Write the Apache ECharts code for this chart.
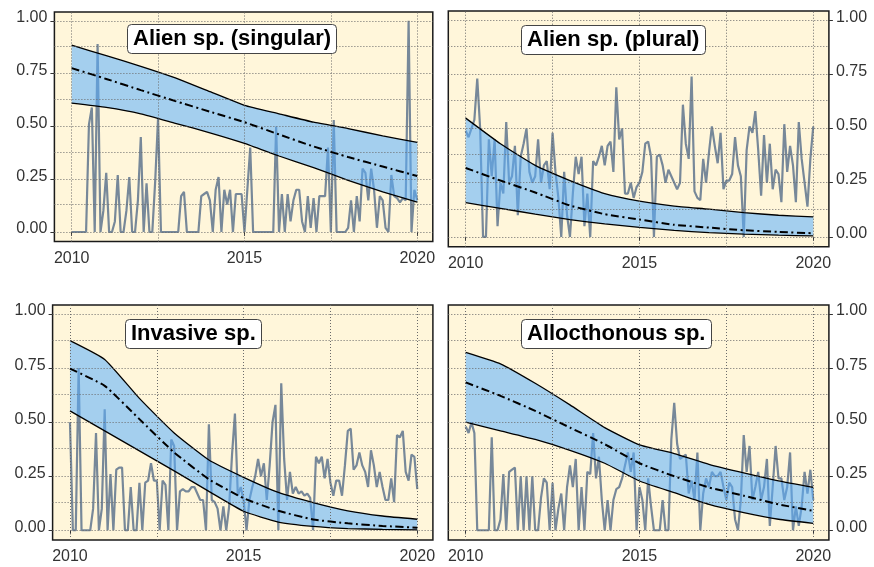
<!DOCTYPE html>
<html><head><meta charset="utf-8">
<script src="https://cdn.jsdelivr.net/npm/echarts/dist/echarts.min.js"></script>
<style>html,body{margin:0;padding:0;background:#fff}#c{width:874px;height:567px}</style>
</head><body><div id="c"></div>
<script>
// ---------- DATA ----------
const panelTitles = ['Alien sp. (singular)', 'Alien sp. (plural)', 'Invasive sp.', 'Allocthonous sp.'];
const xTickLabels = [2010, 2015, 2020];
const yTickLabels = [0, 0.25, 0.5, 0.75, 1];
const xGridLines = [2010, 2012.5, 2015, 2017.5, 2020];
const yGridLines = [0, 0.125, 0.25, 0.375, 0.5, 0.625, 0.75, 0.875, 1];
const fitYears = [2010, 2011, 2012, 2013, 2014, 2015, 2016, 2017, 2018, 2019, 2020];

// monthly proportions, Jan 2010 .. Jan 2020
const singularMonthly = [
  0,0,0,0,0,0,0.51,0.59,0,0.89,
  0,0.1,0.28,0,0,0.05,0.27,0,0,0.1,
  0.26,0,0,0.15,0.45,0,0.23,0,0,0.24,
  0.54,0,0,0,0,0,0,0,0.17,0.19,
  0,0,0,0,0,0.17,0.18,0.19,0.15,0,
  0.2,0.26,0,0.2,0.13,0.2,0,0.18,0.18,0.18,
  0,0.2,0.4,0,0,0,0,0,0,0,
  0,0.5,0,0.18,0,0.18,0.05,0.15,0.2,0.2,
  0.05,0,0.17,0.02,0.16,0,0.17,0.17,0.17,0.4,
  0,0.53,0,0,0,0,0.02,0.15,0,0.17,
  0.05,0.3,0.28,0.15,0.3,0.2,0.02,0.17,0.15,0.02,
  0,0.27,0.17,0.16,0.14,0.16,0.15,1.0,0,0.2,0.15
];
const pluralMonthly = [
  0.49,0.46,0.5,0.54,0.73,0.5,0,0,0.45,0.28,
  0.45,0.05,0.25,0.2,0.53,0.25,0.28,0.42,0.1,0.37,
  0.43,0.5,0.3,0.25,0.28,0.45,0.25,0.33,0.35,0.22,
  0.48,0.3,0.18,0,0.3,0.1,0,0.2,0.37,0.29,
  0.37,0.05,0.2,0,0.35,0.33,0.37,0.42,0.33,0.42,
  0.44,0.3,0.69,0.45,0.5,0.2,0.2,0.25,0.18,0.23,
  0.25,0.3,0.43,0.44,0.37,0,0.37,0.38,0.33,0.25,
  0.31,0.28,0.25,0.22,0.25,0.61,0.43,0.36,0.74,0.21,
  0.18,0.17,0.36,0.25,0.39,0.51,0.42,0.34,0.48,0.22,
  0.26,0.26,0.29,0.46,0.33,0.28,0,0.4,0.51,0.48,
  0.58,0.4,0.19,0.47,0.25,0.43,0.22,0.31,0.29,0.16,
  0.52,0.3,0.42,0.33,0.16,0.53,0.36,0.25,0.14,0.36,0.51
];
const invasiveMonthly = [
  0.5,0,0,0.75,0,0,0,0,0.1,0.45,
  0,0.1,0.56,0,0.26,0,0.28,0.29,0.29,0,
  0,0.2,0,0,0.22,0,0.22,0.23,0.31,0.23,
  0.23,0,0.23,0.21,0,0.42,0.39,0,0.18,0.19,
  0.18,0.18,0.2,0.2,0.17,0.14,0.14,0,0.49,0.14,
  0.13,0.1,0,0.11,0,0.11,0.35,0.54,0.16,0.2,
  0.14,0,0.14,0.2,0.25,0.33,0.25,0.31,0.14,0.3,
  0.5,0.58,0,0.68,0.33,0.14,0.27,0.17,0.2,0.17,
  0.18,0.16,0.17,0.15,0,0.34,0.31,0.34,0.24,0.33,
  0.22,0.16,0.23,0.23,0.16,0.3,0.46,0.47,0.28,0.3,
  0.36,0.3,0.27,0.2,0.37,0.3,0.2,0.27,0.2,0.14,
  0.14,0.24,0.13,0.44,0.43,0.46,0.27,0.23,0.35,0.34,0.19
];
const allocthonousMonthly = [
  0.48,0.45,0.5,0.45,0,0,0,0,0,0.43,
  0,0,0.05,0.26,0,0.27,0.28,0.29,0,0.25,
  0,0.25,0,0.25,0,0,0.15,0.24,0.22,0,
  0.22,0,0.1,0.17,0,0.2,0.3,0.2,0.33,0,
  0.2,0,0.27,0.26,0.45,0.24,0.34,0.14,0,0.14,
  0,0.14,0.19,0.2,0.24,0.3,0.36,0.27,0.36,0,
  0.2,0.14,0,0.24,0.11,0,0,0,0.14,0,
  0,0.42,0.59,0.4,0.33,0.34,0.35,0.17,0.23,0.14,
  0.36,0,0.17,0.24,0.2,0.27,0.25,0.25,0.27,0.2,
  0.14,0.22,0.2,0.05,0,0.14,0.44,0.27,0.39,0.14,
  0.2,0.27,0.14,0.2,0.33,0.02,0.2,0.39,0.24,0.24,
  0.14,0.2,0.36,0,0.11,0.02,0.11,0.27,0.17,0.28,0.14
];

// fitted trend and confidence band, yearly
const singularFit   = [0.776,0.725,0.672,0.62,0.57,0.52,0.462,0.405,0.355,0.31,0.265];
const singularLower = [0.61,0.59,0.56,0.515,0.47,0.42,0.36,0.305,0.245,0.19,0.142];
const singularUpper = [0.885,0.835,0.785,0.73,0.665,0.6,0.56,0.52,0.49,0.455,0.425];

const pluralFit   = [0.318,0.26,0.205,0.145,0.105,0.08,0.056,0.043,0.031,0.023,0.017];
const pluralLower = [0.158,0.132,0.105,0.08,0.06,0.044,0.03,0.02,0.013,0.008,0.005];
const pluralUpper = [0.548,0.43,0.33,0.26,0.2,0.165,0.142,0.128,0.112,0.1,0.093];

const invasiveFit   = [0.748,0.668,0.514,0.36,0.236,0.148,0.09,0.05,0.032,0.02,0.012];
const invasiveLower = [0.552,0.46,0.367,0.275,0.18,0.088,0.038,0.018,0.008,0.004,0.002];
const invasiveUpper = [0.877,0.79,0.61,0.45,0.325,0.245,0.175,0.128,0.09,0.066,0.051];

const allocFit   = [0.684,0.622,0.552,0.475,0.398,0.31,0.25,0.198,0.16,0.12,0.09];
const allocLower = [0.5,0.46,0.42,0.37,0.31,0.228,0.174,0.12,0.082,0.051,0.032];
const allocUpper = [0.823,0.77,0.68,0.58,0.475,0.395,0.355,0.305,0.265,0.228,0.198];

// ---------- LAYOUT / STYLE ----------
const panels = [
  {monthly: singularMonthly, fit: singularFit, lower: singularLower, upper: singularUpper,
   grid: {left: 54.4, top: 12, width: 378.4, height: 229.5}, yPos: 'left', title: {left: 127, top: 24}},
  {monthly: pluralMonthly, fit: pluralFit, lower: pluralLower, upper: pluralUpper,
   grid: {left: 448.3, top: 11, width: 380.6, height: 235.7}, yPos: 'right', title: {left: 521, top: 25}},
  {monthly: invasiveMonthly, fit: invasiveFit, lower: invasiveLower, upper: invasiveUpper,
   grid: {left: 52.6, top: 305, width: 380.3, height: 235}, yPos: 'left', title: {left: 125, top: 319}},
  {monthly: allocthonousMonthly, fit: allocFit, lower: allocLower, upper: allocUpper,
   grid: {left: 448.3, top: 305, width: 380.6, height: 235}, yPos: 'right', title: {left: 521, top: 319}}
];
const X_MIN = 2009.5, X_MAX = 2020.45, Y_MIN = -0.045, Y_MAX = 1.042;
const FONT = '"Liberation Sans", Arial, Helvetica, sans-serif';
const LABEL_COLOR = '#333';
const BAND_COLOR = 'rgba(90,175,255,0.55)';
const LINE_COLOR = '#778899';
const SMOOTH = 0.15;

const option = {animation: false, grid: [], xAxis: [], yAxis: [], series: [], title: []};

panels.forEach((p, gi) => {
  option.grid.push(Object.assign({show: true, backgroundColor: '#fff6da', borderColor: '#1a1a1a', borderWidth: 1.5, containLabel: false}, p.grid));
  option.xAxis.push({
    type: 'value', gridIndex: gi, min: X_MIN, max: X_MAX, position: 'bottom',
    axisLine: {show: false},
    axisTick: {show: true, length: 4, inside: false, lineStyle: {color: '#333', width: 1}, customValues: xTickLabels},
    axisLabel: {show: true, margin: 9, color: LABEL_COLOR, fontSize: 16, fontFamily: FONT, customValues: xTickLabels, formatter: v => String(Math.round(v))},
    splitLine: {show: false}
  });
  option.yAxis.push({
    type: 'value', gridIndex: gi, min: Y_MIN, max: Y_MAX, position: p.yPos,
    axisLine: {show: false},
    axisTick: {show: true, length: 4, inside: false, lineStyle: {color: '#333', width: 1}, customValues: yTickLabels},
    axisLabel: {show: true, margin: 7, color: LABEL_COLOR, fontSize: 16, fontFamily: FONT, customValues: yTickLabels,
      verticalAlign: 'bottom', lineHeight: 6, formatter: v => v.toFixed(2)},
    splitLine: {show: false}
  });
  option.title.push({
    text: panelTitles[gi], left: p.title.left, top: p.title.top,
    padding: [2, 6, 2, 6], backgroundColor: '#ffffff', borderColor: '#444', borderWidth: 1, borderRadius: 4,
    textStyle: {fontFamily: FONT, fontSize: 22, fontWeight: 'bold', color: '#000', lineHeight: 26}
  });
  // dotted grid lines
  option.series.push({
    type: 'line', xAxisIndex: gi, yAxisIndex: gi, data: [[2010, 0]], showSymbol: false, symbol: 'none',
    lineStyle: {width: 0}, z: 1, silent: true,
    markLine: {silent: true, symbol: ['none', 'none'], label: {show: false}, animation: false,
      lineStyle: {color: '#6a6a6a', type: [1, 2], width: 1},
      data: xGridLines.map(v => ({xAxis: v})).concat(yGridLines.map(v => ({yAxis: v})))}
  });
  // monthly observed line
  option.series.push({
    type: 'line', xAxisIndex: gi, yAxisIndex: gi, symbol: 'none', z: 2,
    data: p.monthly.map((v, i) => [2010 + i / 12, v]),
    lineStyle: {color: LINE_COLOR, width: 2.2}
  });
  // confidence band as a polygon through the axis scales
  option.series.push({
    type: 'custom', xAxisIndex: gi, yAxisIndex: gi, z: 3, silent: true,
    data: p.upper.map((v, i) => [fitYears[i], v, p.lower[i]]),
    encode: {x: 0, y: [1, 2]},
    renderItem: (params, api) => {
      if (params.dataIndex !== 0) return null;
      const up = p.upper.map((v, i) => api.coord([fitYears[i], v]));
      const lo = p.lower.map((v, i) => api.coord([fitYears[i], v])).reverse();
      return {
        type: 'polygon',
        shape: {points: up.concat(lo)},
        style: {fill: BAND_COLOR, stroke: null}
      };
    }
  });
  // band outlines
  [p.upper, p.lower].forEach(arr => {
    option.series.push({
      type: 'line', xAxisIndex: gi, yAxisIndex: gi, symbol: 'none', z: 4, smooth: SMOOTH,
      data: arr.map((v, i) => [fitYears[i], v]), lineStyle: {color: '#000', width: 1.3}
    });
  });
  // fitted trend
  option.series.push({
    type: 'line', xAxisIndex: gi, yAxisIndex: gi, symbol: 'none', z: 5, smooth: SMOOTH,
    data: p.fit.map((v, i) => [fitYears[i], v]), lineStyle: {color: '#000', width: 2, type: [8, 3.5, 2, 3.5]}
  });
});

const chart = echarts.init(document.getElementById('c'), null, {renderer: 'canvas'});
chart.setOption(option);
</script></body></html>
